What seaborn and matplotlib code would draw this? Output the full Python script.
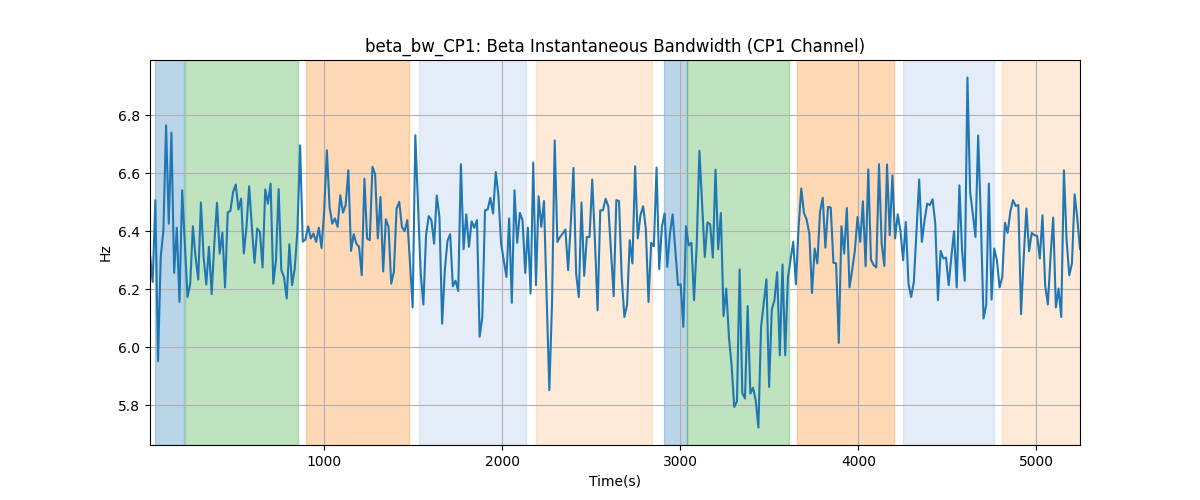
# beta_bw_cp1.py

import numpy as np
import matplotlib
matplotlib.use("Agg")
import matplotlib.pyplot as plt
import seaborn as sns

# === 数据：CP1 通道 beta 瞬时带宽 (Hz) ===
bw_hz = [
    6.32, 6.225, 6.507, 5.952, 6.311, 6.403, 6.765, 6.426, 6.740, 6.256,
    6.412, 6.156, 6.541, 6.357, 6.173, 6.219, 6.417, 6.311, 6.233, 6.499,
    6.311, 6.216, 6.346, 6.183, 6.357, 6.498, 6.323, 6.395, 6.206, 6.465,
    6.470, 6.535, 6.561, 6.475, 6.512, 6.323, 6.415, 6.555, 6.415, 6.291,
    6.409, 6.398, 6.275, 6.544, 6.495, 6.564, 6.219, 6.300, 6.545,
    6.266, 6.242, 6.168, 6.355, 6.214, 6.271, 6.40, 6.696, 6.364, 6.371,
    6.417, 6.375, 6.392, 6.363, 6.412, 6.342, 6.472, 6.679, 6.484, 6.426,
    6.444, 6.415, 6.524, 6.464, 6.490, 6.610, 6.332, 6.390, 6.357, 6.346,
    6.248, 6.581, 6.375, 6.369, 6.622, 6.596, 6.375, 6.518, 6.261, 6.441,
    6.415, 6.219, 6.260, 6.478, 6.501, 6.415, 6.400, 6.438, 6.294, 6.137,
    6.731, 6.495, 6.254, 6.147, 6.386, 6.452, 6.438, 6.357, 6.523, 6.449,
    6.081, 6.266, 6.367, 6.390, 6.210, 6.229, 6.194, 6.631, 6.338, 6.458,
    6.346, 6.434, 6.412, 6.438, 6.036, 6.104, 6.472, 6.475, 6.515, 6.461,
    6.604, 6.524, 6.357, 6.300, 6.242, 6.444, 6.153, 6.541, 6.360, 6.463,
    6.438, 6.256, 6.412, 6.185, 6.637, 6.214, 6.520, 6.415, 6.504, 6.17,
    5.852, 6.151, 6.713, 6.363, 6.380, 6.392, 6.406, 6.266, 6.426, 6.618,
    6.254, 6.173, 6.499, 6.246, 6.380, 6.380, 6.578, 6.369, 6.127, 6.472,
    6.472, 6.512, 6.486, 6.334, 6.176, 6.507, 6.504, 6.242, 6.104, 6.145,
    6.369, 6.289, 6.624, 6.375, 6.455, 6.486, 6.409, 6.156, 6.360, 6.348,
    6.619, 6.269, 6.415, 6.461, 6.277, 6.392, 6.458, 6.334, 6.214, 6.217,
    6.070, 6.417, 6.351, 6.360, 6.162, 6.357, 6.677, 6.495, 6.311, 6.430,
    6.424, 6.309, 6.612, 6.338, 6.463, 6.107, 6.202, 6.036, 5.937, 5.794,
    5.813, 6.268, 5.842, 5.823, 6.142, 5.840, 5.860, 5.817, 5.723, 6.070,
    6.151, 6.234, 5.863, 6.130, 6.162, 6.259, 5.972, 6.285, 5.972, 6.237,
    6.302, 6.363, 6.217, 6.415, 6.547, 6.463, 6.440, 6.392, 6.187, 6.340,
    6.289, 6.467, 6.515, 6.343, 6.484, 6.481, 6.291, 6.289, 6.015, 6.417,
    6.323, 6.480, 6.206, 6.266, 6.334, 6.449, 6.363, 6.503, 6.279, 6.613,
    6.302, 6.283, 6.275, 6.631, 6.357, 6.280, 6.630, 6.386, 6.592, 6.375,
    6.458, 6.401, 6.300, 6.432, 6.219, 6.173, 6.225, 6.403, 6.578, 6.363,
    6.438, 6.495, 6.490, 6.510, 6.426, 6.162, 6.332, 6.306, 6.309, 6.214,
    6.311, 6.400, 6.206, 6.558, 6.334, 6.229, 6.930, 6.535, 6.461, 6.380,
    6.730, 6.444, 6.099, 6.145, 6.564, 6.164, 6.340, 6.300, 6.206, 6.242,
    6.429, 6.394, 6.467, 6.507, 6.487, 6.490, 6.114, 6.311, 6.478, 6.331,
    6.394, 6.386, 6.384, 6.306, 6.455, 6.214, 6.147, 6.311, 6.447, 6.137,
    6.202, 6.104, 6.610, 6.369, 6.248, 6.289, 6.527, 6.444, 6.338,
]

# 采样时间网格（秒）
t_start, t_end = 21, 5245
time_s = np.linspace(t_start, t_end, len(bw_hz))

# === 阶段区间（秒） ===
phase_start = [50, 215, 900, 1530, 2192, 2907, 3038, 3654, 4251, 4807]
phase_end = [210, 850, 1476, 2135, 2843, 3038, 3610, 4198, 4760, 5300]
phase_color = ["tab:blue", "tab:green", "tab:orange", "#aec7e8", "tab:orange",
               "tab:blue", "tab:green", "tab:orange", "#aec7e8", "tab:orange"]
phase_alpha = [0.3, 0.3, 0.3, 0.33, 0.16, 0.3, 0.3, 0.3, 0.33, 0.16]

# === 绘图 ===
fig, ax = plt.subplots(figsize=(12, 5), dpi=100)

for s, e, c, a in zip(phase_start, phase_end, phase_color, phase_alpha):
    ax.axvspan(s, e, color=c, alpha=a)

sns.lineplot(x=time_s, y=bw_hz, ax=ax, color="tab:blue", linewidth=1.5)

ax.set_xlim(time_s[0], time_s[-1])
ax.set_title("beta_bw_CP1: Beta Instantaneous Bandwidth (CP1 Channel)")
ax.set_xlabel("Time(s)")
ax.set_ylabel("Hz")
ax.grid(True)

plt.savefig("out.png")
